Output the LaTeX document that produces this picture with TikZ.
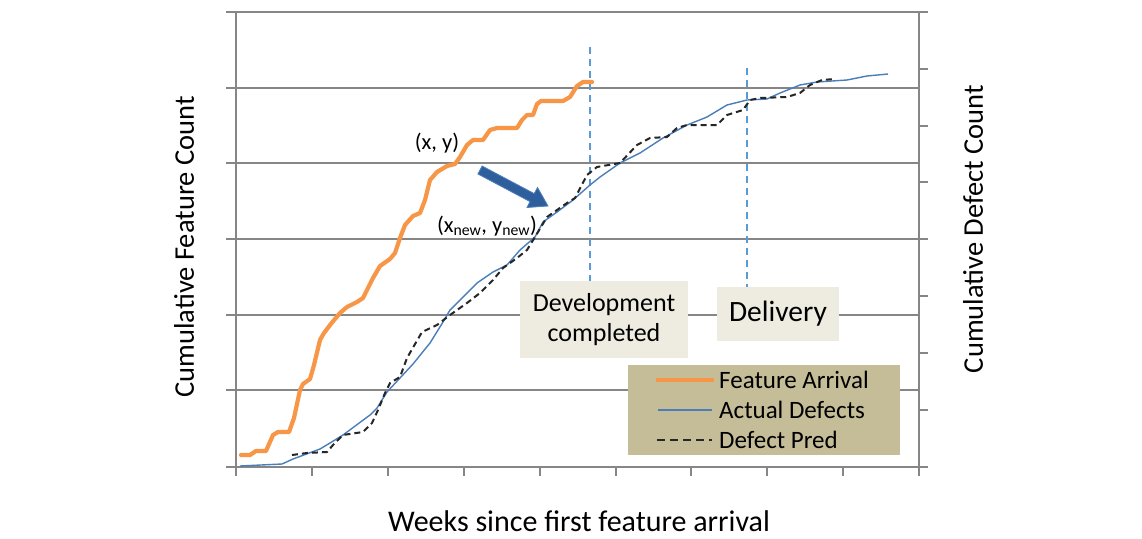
\documentclass[tikz,border=0pt]{standalone}
\usepackage{fontspec}
\setmainfont{Carlito}
\definecolor{gridgray}{HTML}{868686}
\definecolor{featorange}{HTML}{F79646}
\definecolor{defblue}{HTML}{4A7EBB}
\definecolor{markblue}{HTML}{5B9BD5}
\definecolor{arrowblue}{HTML}{2F5E9C}
\definecolor{arrowedge}{HTML}{4F81BD}
\definecolor{boxfill}{HTML}{EEECE1}
\definecolor{legfill}{HTML}{C4BD97}
\tikzset{
  gridline/.style={draw=gridgray, line width=2pt},
  feature/.style={draw=featorange, line width=4.2pt, line join=round, line cap=round},
  actual/.style={draw=defblue, line width=1.4pt, line join=round},
  pred/.style={draw=black!85, line width=2pt, dash pattern=on 6pt off 4pt},
  marker/.style={draw=markblue, line width=1.6pt, dash pattern=on 7pt off 5pt},
  labelbox/.style={fill=boxfill, inner sep=0pt},
  axislabel/.style={font=\fontsize{28.5}{30}\selectfont, inner sep=0pt},
  legtext/.style={font=\fontsize{25}{27}\selectfont, anchor=west, inner sep=0pt},
  pointlabel/.style={font=\fontsize{22.5}{24}\selectfont, inner sep=0pt}
}
\begin{document}
\begin{tikzpicture}[x=1pt,y=-1pt]
\useasboundingbox (0,0) rectangle (1142,538);
\fill[white] (0,0) rectangle (1142,538);
% grid lines
\foreach \yy in {12,87.7,163.3,239,314.7,390.3} {
  \draw[gridline] (226,\yy) -- (919,\yy);
}
\draw[gridline] (919,12) -- (928,12);
% axes
\draw[gridline] (236,12) -- (236,476);
\draw[gridline] (919,12) -- (919,476);
\draw[gridline] (226,466.5) -- (928,466.5);
\foreach \k in {0,...,9} {
  \draw[gridline] ({236+\k*75.9},466.5) -- ({236+\k*75.9},476);
}
\foreach \k in {1,...,7} {
  \draw[gridline] (919,{12+\k*56.8}) -- (928,{12+\k*56.8});
}
% milestone markers
\coordinate (m1top) at (590,47);
\coordinate (m2top) at (747,68);
\draw[marker] (m1top) -- (590,282);
\draw[marker] (m2top) -- (747,288);
% actual defects
\draw[actual] plot coordinates {(240,466) (282,464) (293,459) (320,449) (330,443) (343,435) (370,415) (377,408) (387,392) (400,378) (413,364) (430,343) (443,322) (450,310) (465,295) (477,283) (493,272) (507,265) (520,250) (535,237) (543,222) (557,212) (573,200) (590,185) (600,177) (620,163) (640,153) (663,138) (687,125) (707,117) (727,105) (747,100) (767,99) (780,93) (800,85) (817,82) (847,80) (867,76) (888,74)};
% defect prediction
\draw[pred] plot coordinates {(292,455) (307,453) (327,452) (333,445) (343,435) (363,432) (372,423) (378,410) (385,393) (390,383) (400,377) (407,358) (422,332) (437,325) (450,315) (467,303) (480,293) (493,280) (503,268) (517,258) (527,250) (535,237) (547,217) (567,203) (575,198) (587,175) (597,167) (620,163) (637,145) (650,138) (667,137) (677,128) (687,125) (717,125) (727,115) (743,110) (750,100) (760,98) (787,97) (800,93) (810,85) (822,80) (835,79)};
% feature arrival
\draw[feature] plot coordinates {(241,455) (250,455) (256,451) (266,451) (273,435) (278,432) (289,432) (294,418) (300,390) (303,384) (310,379) (314,365) (320,340) (324,333) (330,325) (340,313) (347,307) (357,302) (363,298) (367,290) (373,278) (380,266) (390,259) (395,253) (400,238) (405,225) (413,216) (420,213) (425,200) (430,180) (437,172) (447,166) (455,164) (460,157) (467,145) (473,140) (483,140) (490,130) (497,128) (517,128) (522,120) (527,115) (533,115) (537,104) (541,101) (563,101) (570,97) (577,86) (583,82) (592,82)};
% block arrow
\filldraw[fill=arrowblue, draw=arrowedge, line width=0.8pt, line join=miter]
  (482.1,166.0) -- (534.2,193.6) -- (537.5,187.5) -- (548,206) -- (527.0,207.5) -- (530.0,201.6) -- (477.9,174.0) -- cycle;
% point labels
\node[pointlabel] (xy) at (437,143) {(x, y)};
\node[pointlabel] (xynew) at (487,226) {(x\textsubscript{new}, y\textsubscript{new})};
% milestone boxes
\node[labelbox, minimum width=168pt, minimum height=77pt, align=center,
  font=\fontsize{26}{30}\selectfont] (dev) at (604,319.5) {Development\\completed};
\node[labelbox, minimum width=122pt, minimum height=54pt,
  font=\fontsize{29.5}{31}\selectfont] (deliv) at (778,314) {Delivery};
% legend
\node[fill=legfill, minimum width=272pt, minimum height=90pt, inner sep=0pt] (legend) at (764,410) {};
\coordinate (l1a) at (656,380); \coordinate (l1b) at (714,380);
\coordinate (l2a) at (658,410); \coordinate (l2b) at (712,410);
\coordinate (l3a) at (657,440); \coordinate (l3b) at (712,440);
\draw[draw=featorange, line width=4.2pt] (l1a) -- (l1b);
\draw[actual] (l2a) -- (l2b);
\draw[draw=black!85, line width=1.8pt, dash pattern=on 8pt off 5pt] (l3a) -- (l3b);
\node[legtext] (leg1) at (719,380) {Feature Arrival};
\node[legtext] (leg2) at (719,410) {Actual Defects};
\node[legtext] (leg3) at (719,440) {Defect Pred};
% axis labels
\node[axislabel, rotate=90] (ylab) at (184,247) {Cumulative Feature Count};
\node[axislabel, rotate=90] (y2lab) at (973,229) {Cumulative Defect Count};
\node[axislabel, font=\fontsize{30}{32}\selectfont] (xlab) at (579,521) {Weeks since first feature arrival};
\end{tikzpicture}
\end{document}
